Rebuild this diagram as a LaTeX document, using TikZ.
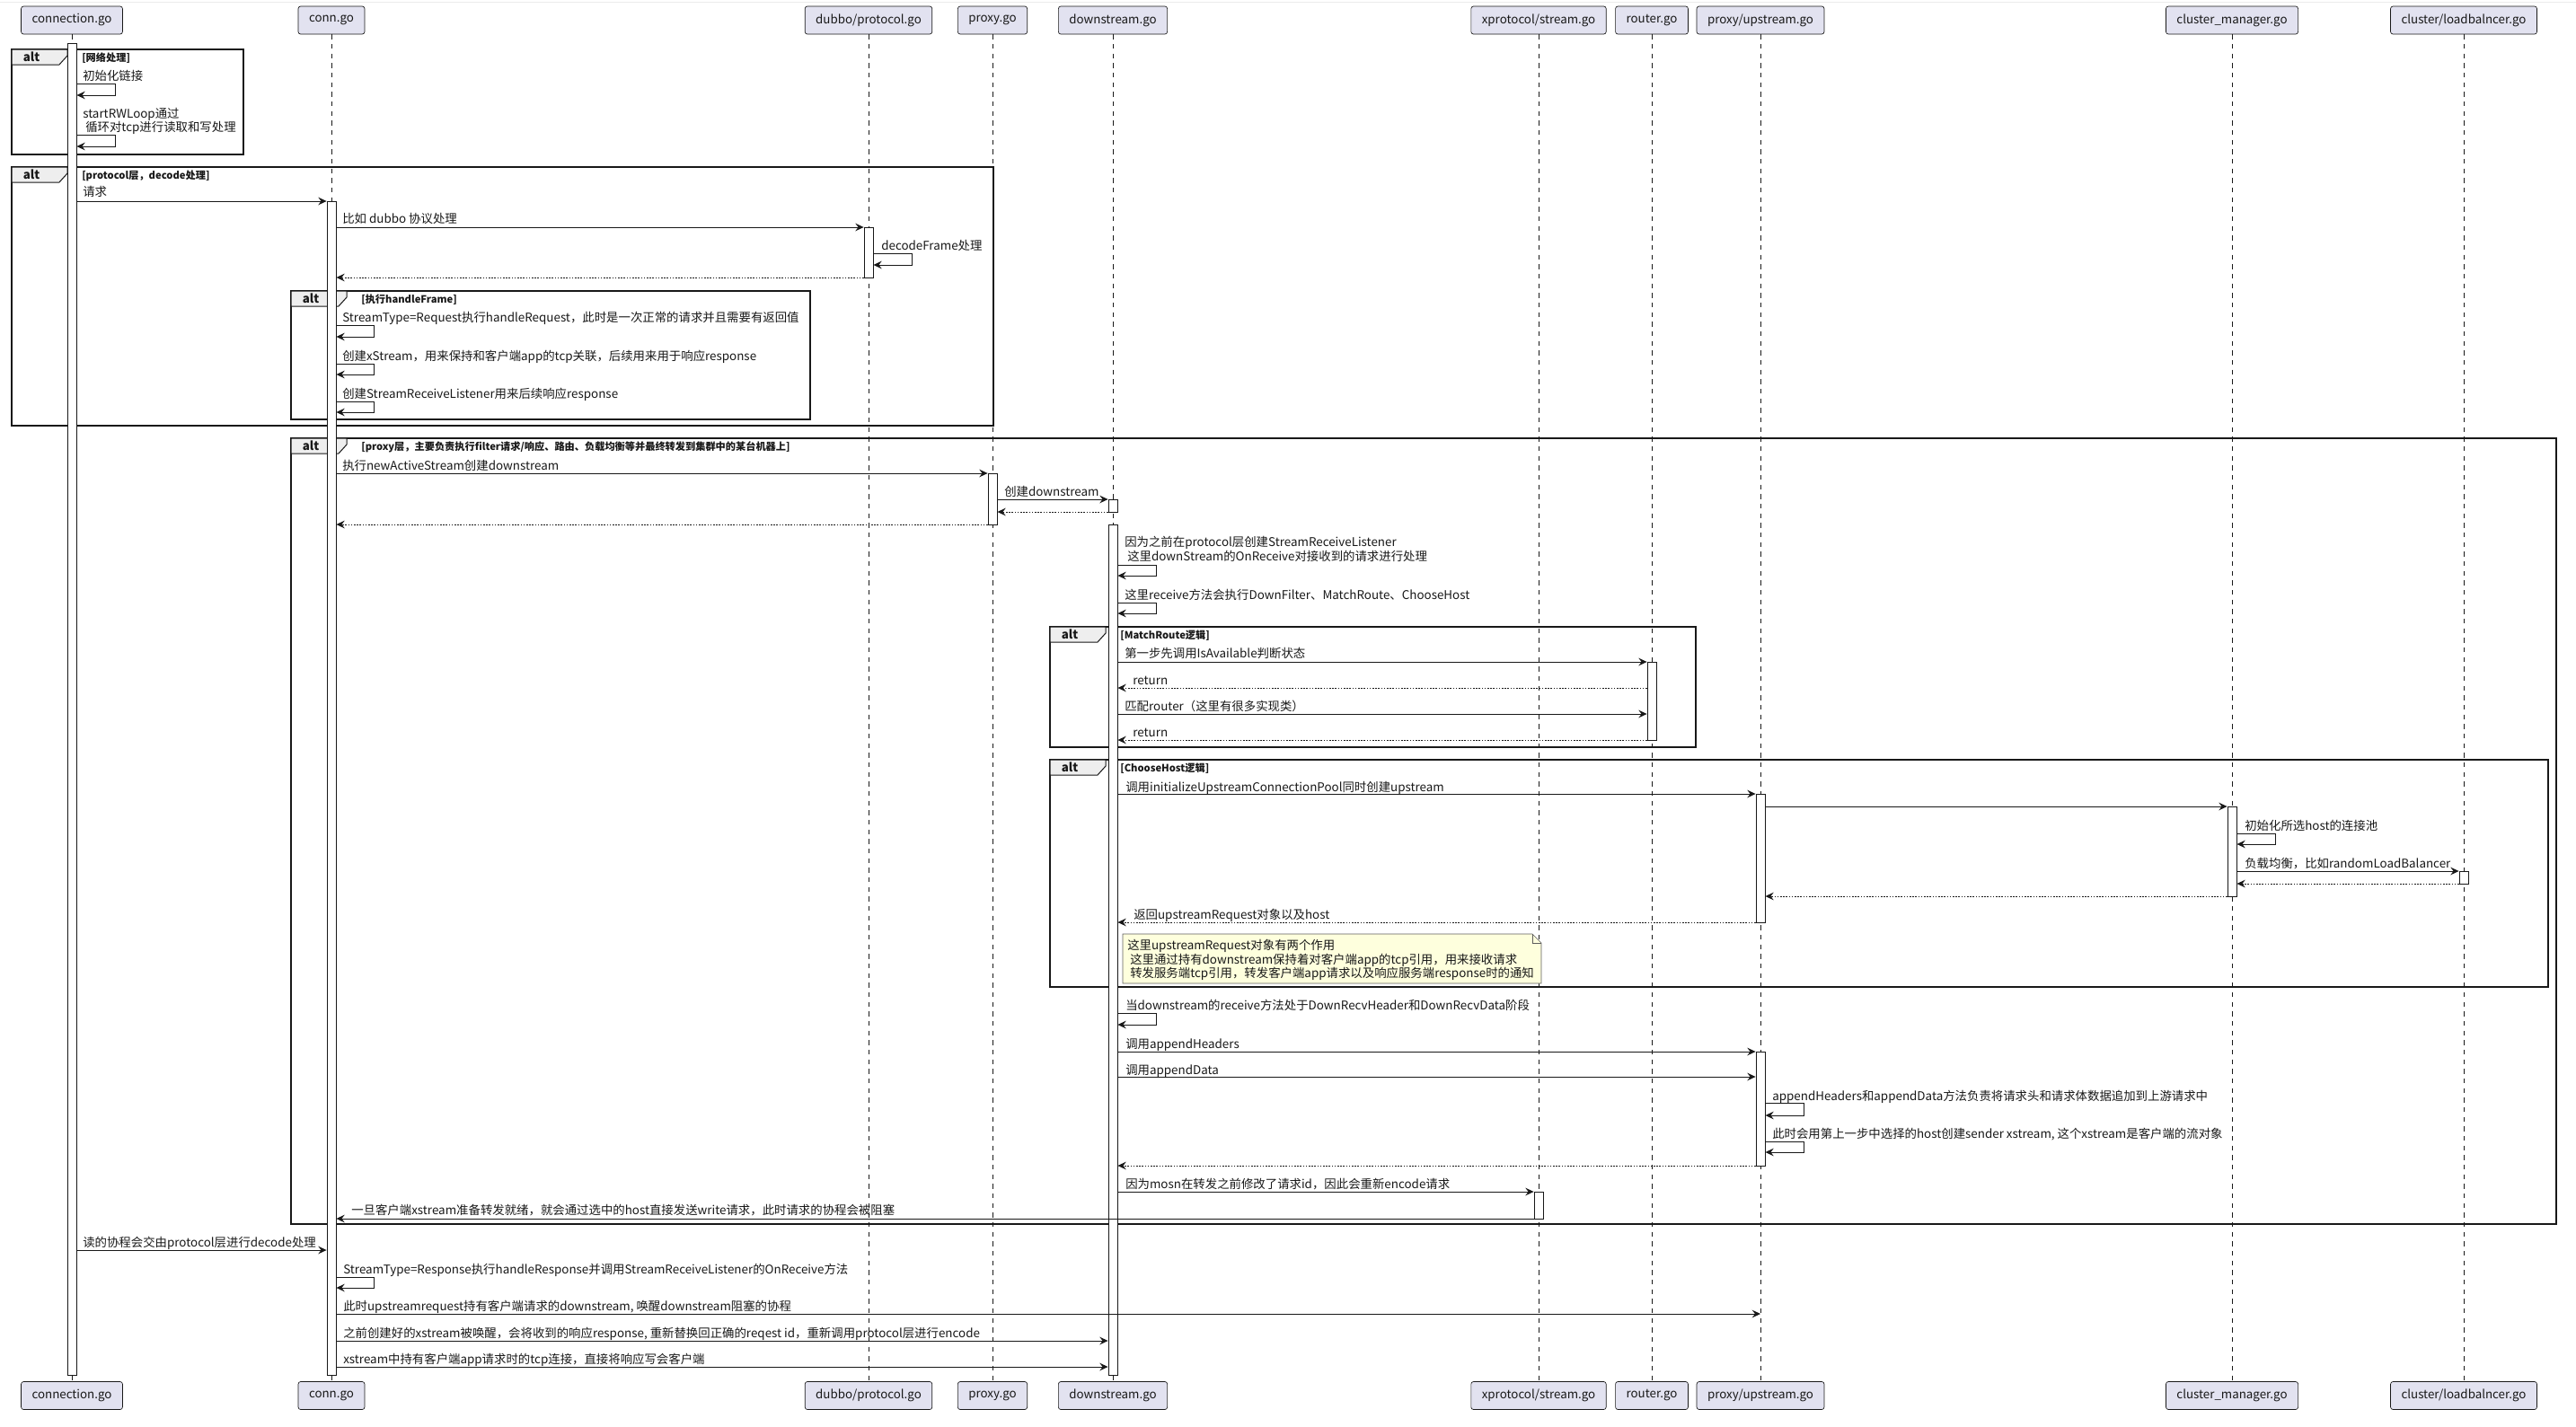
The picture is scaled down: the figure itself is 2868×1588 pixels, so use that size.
\documentclass[tikz,border=0pt]{standalone}
\usepackage{fontspec}
\setmainfont{Noto Sans CJK SC}
\usepackage{tikz}
\usetikzlibrary{positioning, calc, arrows.meta}
\definecolor{ink}{HTML}{181818}
\definecolor{partfill}{HTML}{E2E2F0}
\definecolor{tabfill}{HTML}{EEEEEE}
\definecolor{notefill}{HTML}{FEFFDD}
\newcommand{\msgfont}{\fontsize{10.05}{12}\selectfont}
\newcommand{\grpfont}{\fontsize{8.4}{10}\selectfont\bfseries}

\begin{document}
\begin{tikzpicture}[x=0.75pt, y=-0.75pt, every node/.style={font=\msgfont, text=ink}]
    \tikzstyle{part} = [draw=ink, fill=partfill, line width=0.5pt, rounded corners=2pt, minimum height=23.25pt, inner xsep=9pt, font=\fontsize{10}{12}\selectfont]
    \tikzstyle{life} = [draw=ink, line width=0.5pt, dash pattern=on 4pt off 4pt]
    \tikzstyle{act} = [draw=ink, fill=white, line width=0.6pt, minimum width=7.5pt, inner sep=0pt, anchor=north]
    \tikzstyle{msg} = [draw=ink, line width=0.75pt, -{Stealth[length=7pt, width=6.5pt, inset=2.5pt]}]
    \tikzstyle{ret} = [msg, dash pattern=on 1.2pt off 1.2pt]
    \tikzstyle{lbl} = [anchor=base west, inner sep=0pt]
    \tikzstyle{grp} = [draw=ink, line width=1.5pt]
    \tikzstyle{tab} = [draw=ink, fill=tabfill, line width=0.75pt]
    \tikzstyle{alttxt} = [font=\fontsize{10}{12}\selectfont\bfseries]
    \tikzstyle{grptxt} = [lbl, font=\grpfont]

    \useasboundingbox (0,0) rectangle (2868,1588);
    \draw[black!8] (0,2) -- (2868,2);

    % Participants
    \node[part] (cx-t) at (80,22.5) {connection.go};
    \node[part] (cg-t) at (369,22.5) {conn.go};
    \node[part] (dp-t) at (967,22.5) {dubbo/protocol.go};
    \node[part] (px-t) at (1105,22.5) {proxy.go};
    \node[part] (ds-t) at (1239,22.5) {downstream.go};
    \node[part] (xs-t) at (1713,22.5) {xprotocol/stream.go};
    \node[part] (rt-t) at (1839,22.5) {router.go};
    \node[part] (us-t) at (1960,22.5) {proxy/upstream.go};
    \node[part] (cm-t) at (2485,22.5) {cluster\_manager.go};
    \node[part] (lb-t) at (2743,22.5) {cluster/loadbalncer.go};

    \node[part] (cx-b) at (80,1554) {connection.go};
    \node[part] (cg-b) at (369,1554) {conn.go};
    \node[part] (dp-b) at (967,1554) {dubbo/protocol.go};
    \node[part] (px-b) at (1105,1554) {proxy.go};
    \node[part] (ds-b) at (1239,1554) {downstream.go};
    \node[part] (xs-b) at (1713,1554) {xprotocol/stream.go};
    \node[part] (rt-b) at (1839,1554) {router.go};
    \node[part] (us-b) at (1960,1554) {proxy/upstream.go};
    \node[part] (cm-b) at (2485,1554) {cluster\_manager.go};
    \node[part] (lb-b) at (2743,1554) {cluster/loadbalncer.go};

    % Lifelines
    \draw[life] (cx-t) -- (cx-b);
    \draw[life] (cg-t) -- (cg-b);
    \draw[life] (dp-t) -- (dp-b);
    \draw[life] (px-t) -- (px-b);
    \draw[life] (ds-t) -- (ds-b);
    \draw[life] (xs-t) -- (xs-b);
    \draw[life] (rt-t) -- (rt-b);
    \draw[life] (us-t) -- (us-b);
    \draw[life] (cm-t) -- (cm-b);
    \draw[life] (lb-t) -- (lb-b);

    % Groups
    \draw[grp] (13,55) rectangle (271,172);
    \draw[tab] (13,55) -- (75,55) -- (75,62) -- (66,72) -- (13,72) -- cycle;
    \node[alttxt] (alt1) at (35,63.5) {alt};
    \node[grptxt] (g1) at (91,68) {[网络处理]};

    \draw[grp] (13,186) rectangle (1106,474);
    \draw[tab] (13,186) -- (75,186) -- (75,193) -- (66,203) -- (13,203) -- cycle;
    \node[alttxt] (alt2) at (35,194.5) {alt};
    \node[grptxt] (g2) at (91,199) {[protocol层，decode处理]};

    \draw[grp] (324,324) rectangle (902,467);
    \draw[tab] (324,324) -- (386,324) -- (386,331) -- (377,341) -- (324,341) -- cycle;
    \node[alttxt] (alt3) at (346,332.5) {alt};
    \node[grptxt] (g3) at (402,337) {[执行handleFrame]};

    \draw[grp] (324,488) rectangle (2846,1363);
    \draw[tab] (324,488) -- (386,488) -- (386,495) -- (377,505) -- (324,505) -- cycle;
    \node[alttxt] (alt4) at (346,496.5) {alt};
    \node[grptxt] (g4) at (402,501) {[proxy层，主要负责执行filter请求/响应、路由、负载均衡等并最终转发到集群中的某台机器上]};

    \draw[grp] (1169,698) rectangle (1888,832);
    \draw[tab] (1169,698) -- (1231,698) -- (1231,705) -- (1222,715) -- (1169,715) -- cycle;
    \node[alttxt] (alt5) at (1191,706.5) {alt};
    \node[grptxt] (g5) at (1247,711) {[MatchRoute逻辑]};

    \draw[grp] (1169,846) rectangle (2837,1099);
    \draw[tab] (1169,846) -- (1231,846) -- (1231,853) -- (1222,863) -- (1169,863) -- cycle;
    \node[alttxt] (alt6) at (1191,854.5) {alt};
    \node[grptxt] (g6) at (1247,859) {[ChooseHost逻辑]};

    % Activations
    \node[act, minimum height={(1531-48)*0.75pt}] (a-cx) at (80,48) {};
    \node[act, minimum height={(1531-224)*0.75pt}] (a-cg) at (369,224) {};
    \node[act, minimum height={(309-253)*0.75pt}] (a-dp) at (967,253) {};
    \node[act, minimum height={(584-527)*0.75pt}] (a-px) at (1105,527) {};
    \node[act, minimum height={(570-556)*0.75pt}] (a-ds1) at (1239,556) {};
    \node[act, minimum height={(1531-584)*0.75pt}] (a-ds2) at (1239,584) {};
    \node[act, minimum height={(824-737)*0.75pt}] (a-rt) at (1839,737) {};
    \node[act, minimum height={(1027-884)*0.75pt}] (a-us1) at (1960,884) {};
    \node[act, minimum height={(998-898)*0.75pt}] (a-cm) at (2485,898) {};
    \node[act, minimum height={(984-970)*0.75pt}] (a-lb) at (2743,970) {};
    \node[act, minimum height={(1298-1171)*0.75pt}] (a-us2) at (1960,1171) {};
    \node[act, minimum height={(1357-1327)*0.75pt}] (a-xs) at (1713,1327) {};

    % Network handling
    \node[lbl] (t1) at (92,89) {初始化链接};
    \draw[msg] (a-cx.east |- 0,93) -- ++(43,0) |- (a-cx.east |- 0,106);
    \node[lbl] (t2a) at (92,131) {startRWLoop通过};
    \node[lbl] (t2b) at (95,146) {循环对tcp进行读取和写处理};
    \draw[msg] (a-cx.east |- 0,150) -- ++(43,0) |- (a-cx.east |- 0,163);

    % Protocol layer
    \node[lbl] (t3) at (92,218) {请求};
    \draw[msg] (a-cx.east |- 0,224) -- (a-cg.west |- 0,224);
    \node[lbl] (t4) at (381,248) {比如 dubbo 协议处理};
    \draw[msg] (a-cg.east |- 0,253) -- (a-dp.west |- 0,253);
    \node[lbl] (t5) at (981,278) {decodeFrame处理};
    \draw[msg] (a-dp.east |- 0,282) -- ++(43,0) |- (a-dp.east |- 0,295);
    \draw[ret] (a-dp.west |- 0,309) -- (a-cg.east |- 0,309);
    \node[lbl] (t7) at (381,358) {StreamType=Request执行handleRequest，此时是一次正常的请求并且需要有返回值};
    \draw[msg] (a-cg.east |- 0,362) -- ++(42,0) |- (a-cg.east |- 0,375);
    \node[lbl] (t8) at (381,401) {创建xStream，用来保持和客户端app的tcp关联，后续用来用于响应response};
    \draw[msg] (a-cg.east |- 0,405) -- ++(42,0) |- (a-cg.east |- 0,417);
    \node[lbl] (t9) at (381,443) {创建StreamReceiveListener用来后续响应response};
    \draw[msg] (a-cg.east |- 0,447) -- ++(42,0) |- (a-cg.east |- 0,459);

    % Proxy layer
    \node[lbl] (t10) at (381,523) {执行newActiveStream创建downstream};
    \draw[msg] (a-cg.east |- 0,527) -- (a-px.west |- 0,527);
    \node[lbl] (t11) at (1118,552) {创建downstream};
    \draw[msg] (a-px.east |- 0,556) -- (a-ds1.west |- 0,556);
    \draw[ret] (a-ds1.west |- 0,570) -- (a-px.east |- 0,570);
    \draw[ret] (a-px.west |- 0,584) -- (a-cg.east |- 0,584);
    \node[lbl] (t14a) at (1252,608) {因为之前在protocol层创建StreamReceiveListener};
    \node[lbl] (t14b) at (1255,624) {这里downStream的OnReceive对接收到的请求进行处理};
    \draw[msg] (a-ds2.east |- 0,629) -- ++(43,0) |- (a-ds2.east |- 0,641);
    \node[lbl] (t15) at (1252,667) {这里receive方法会执行DownFilter、MatchRoute、ChooseHost};
    \draw[msg] (a-ds2.east |- 0,671) -- ++(43,0) |- (a-ds2.east |- 0,683);

    % MatchRoute
    \node[lbl] (t16) at (1252,732) {第一步先调用IsAvailable判断状态};
    \draw[msg] (a-ds2.east |- 0,737) -- (a-rt.west |- 0,737);
    \node[lbl] (t17) at (1261,762) {return};
    \draw[ret] (a-rt.west |- 0,766) -- (a-ds2.east |- 0,766);
    \node[lbl] (t18) at (1252,791) {匹配router（这里有很多实现类）};
    \draw[msg] (a-ds2.east |- 0,795) -- (a-rt.west |- 0,795);
    \node[lbl] (t19) at (1261,820) {return};
    \draw[ret] (a-rt.west |- 0,824) -- (a-ds2.east |- 0,824);

    % ChooseHost
    \node[lbl] (t20) at (1253,881) {调用initializeUpstreamConnectionPool同时创建upstream};
    \draw[msg] (a-ds2.east |- 0,884) -- (a-us1.west |- 0,884);
    \draw[msg] (a-us1.east |- 0,898) -- (a-cm.west |- 0,898);
    \node[lbl] (t22) at (2499,924) {初始化所选host的连接池};
    \draw[msg] (a-cm.east |- 0,928) -- ++(43,0) |- (a-cm.east |- 0,940);
    \node[lbl] (t23) at (2499,966) {负载均衡，比如randomLoadBalancer};
    \draw[msg] (a-cm.east |- 0,970) -- (a-lb.west |- 0,970);
    \draw[ret] (a-lb.west |- 0,984) -- (a-cm.east |- 0,984);
    \draw[ret] (a-cm.west |- 0,998) -- (a-us1.east |- 0,998);
    \node[lbl] (t26) at (1262,1023) {返回upstreamRequest对象以及host};
    \draw[ret] (a-us1.west |- 0,1027) -- (a-ds2.east |- 0,1027);

    % note
    \draw[draw=ink!70, fill=notefill, line width=0.5pt] (1250,1040) -- (1706,1040) -- (1716,1050) -- (1716,1095) -- (1250,1095) -- cycle;
    \draw[draw=ink!70, line width=0.5pt] (1706,1040) -- (1706,1050) -- (1716,1050);
    \node[lbl] (n1) at (1255,1057) {这里upstreamRequest对象有两个作用};
    \node[lbl] (n2) at (1258,1073) {这里通过持有downstream保持着对客户端app的tcp引用，用来接收请求};
    \node[lbl] (n3) at (1258,1088) {转发服务端tcp引用，转发客户端app请求以及响应服务端response时的通知};

    % Append headers / data
    \node[lbl] (t28) at (1253,1124) {当downstream的receive方法处于DownRecvHeader和DownRecvData阶段};
    \draw[msg] (a-ds2.east |- 0,1128) -- ++(43,0) |- (a-ds2.east |- 0,1141);
    \node[lbl] (t29) at (1253,1167) {调用appendHeaders};
    \draw[msg] (a-ds2.east |- 0,1171) -- (a-us2.west |- 0,1171);
    \node[lbl] (t30) at (1253,1196) {调用appendData};
    \draw[msg] (a-ds2.east |- 0,1199) -- (a-us2.west |- 0,1199);
    \node[lbl] (t31) at (1973,1225) {appendHeaders和appendData方法负责将请求头和请求体数据追加到上游请求中};
    \draw[msg] (a-us2.east |- 0,1228) -- ++(43,0) |- (a-us2.east |- 0,1242);
    \node[lbl] (t32) at (1973,1267) {此时会用第上一步中选择的host创建sender xstream, 这个xstream是客户端的流对象};
    \draw[msg] (a-us2.east |- 0,1271) -- ++(43,0) |- (a-us2.east |- 0,1283);
    \draw[ret] (a-us2.west |- 0,1298) -- (a-ds2.east |- 0,1298);
    \node[lbl] (t34) at (1253,1323) {因为mosn在转发之前修改了请求id，因此会重新encode请求};
    \draw[msg] (a-ds2.east |- 0,1327) -- (a-xs.west |- 0,1327);
    \node[lbl] (t35) at (391,1352) {一旦客户端xstream准备转发就绪，就会通过选中的host直接发送write请求，此时请求的协程会被阻塞};
    \draw[msg] (a-xs.west |- 0,1357) -- (a-cg.east |- 0,1357);

    % Response path
    \node[lbl] (t36) at (92,1388) {读的协程会交由protocol层进行decode处理};
    \draw[msg] (a-cx.east |- 0,1392) -- (a-cg.west |- 0,1392);
    \node[lbl] (t37) at (382,1418) {StreamType=Response执行handleResponse并调用StreamReceiveListener的OnReceive方法};
    \draw[msg] (a-cg.east |- 0,1422) -- ++(42,0) |- (a-cg.east |- 0,1434);
    \node[lbl] (t38) at (382,1459) {此时upstreamrequest持有客户端请求的downstream, 唤醒downstream阻塞的协程};
    \draw[msg] (a-cg.east |- 0,1463) -- (us-t |- 0,1463);
    \node[lbl] (t39) at (382,1489) {之前创建好的xstream被唤醒，会将收到的响应response, 重新替换回正确的reqest id，重新调用protocol层进行encode};
    \draw[msg] (a-cg.east |- 0,1493) -- (a-ds2.west |- 0,1493);
    \node[lbl] (t40) at (382,1518) {xstream中持有客户端app请求时的tcp连接，直接将响应写会客户端};
    \draw[msg] (a-cg.east |- 0,1522) -- (a-ds2.west |- 0,1522);
\end{tikzpicture}
\end{document}
